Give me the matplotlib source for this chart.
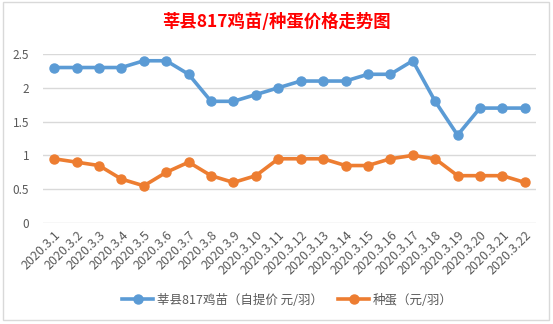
import matplotlib.pyplot as plt
from matplotlib.patches import Rectangle

plt.rcParams['font.family'] = ['Noto Sans CJK SC', 'DejaVu Sans']

dates = ['2020.3.%d' % d for d in range(1, 23)]
chick = [2.3, 2.3, 2.3, 2.3, 2.4, 2.4, 2.2, 1.8, 1.8, 1.9, 2.0,
         2.1, 2.1, 2.1, 2.2, 2.2, 2.4, 1.8, 1.3, 1.7, 1.7, 1.7]
egg = [0.95, 0.9, 0.85, 0.65, 0.55, 0.75, 0.9, 0.7, 0.6, 0.7, 0.95,
       0.95, 0.95, 0.85, 0.85, 0.95, 1.0, 0.95, 0.7, 0.7, 0.7, 0.6]
yticks = [0, 0.5, 1, 1.5, 2, 2.5]

fig = plt.figure(figsize=(5.53, 3.24), dpi=100)
fig.patches.append(Rectangle((3 / 553, 4 / 324), 546 / 553, 318 / 324,
                             transform=fig.transFigure, fill=False,
                             edgecolor='#d9d9d9', linewidth=1))
ax = fig.add_axes([43 / 553, (324 - 223) / 324, 493 / 553, 169 / 324])

x = list(range(len(dates)))
ax.plot(x, chick, color='#5B9BD5', lw=2.6, marker='o', ms=6.5,
        clip_on=False, label='莘县817鸡苗（自提价 元/羽）')
ax.plot(x, egg, color='#ED7D31', lw=2.6, marker='o', ms=6.5,
        clip_on=False, label='种蛋（元/羽）')

ax.set_xlim(-0.5, len(dates) - 0.5)
ax.set_ylim(0, 2.5)
ax.set_yticks(yticks)
ax.set_yticklabels(['0', '0.5', '1', '1.5', '2', '2.5'])
ax.set_xticks(x)
ax.set_xticklabels(dates, rotation=45, ha='right', rotation_mode='anchor')
ax.tick_params(axis='both', length=0, labelcolor='#595959', labelsize=8.5)
ax.tick_params(axis='x', labelsize=9)
ax.tick_params(axis='y', pad=10)
ax.tick_params(axis='x', pad=4)
ax.grid(axis='y', color='#d9d9d9', lw=1)
ax.set_axisbelow(True)
for s in ax.spines.values():
    s.set_visible(False)

fig.suptitle('莘县817鸡苗/种蛋价格走势图', y=1 - 22 / 324, va='center',
             color='#ff0000', fontsize=12.5, fontweight='bold')
fig.legend(loc='center', bbox_to_anchor=(0.52, 1 - 300 / 324), ncol=2,
           frameon=False, fontsize=9, labelcolor='#595959',
           handlelength=2.5, columnspacing=1.2, handletextpad=0.3)

fig.savefig('out.png', dpi=100)
